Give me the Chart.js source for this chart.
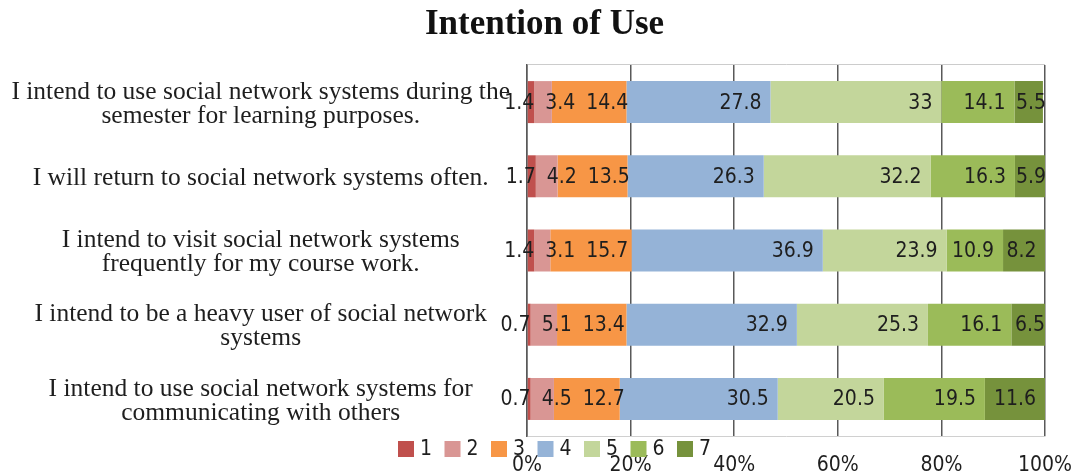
<!DOCTYPE html>
<html>
<head>
<meta charset="utf-8">
<script src="https://cdn.jsdelivr.net/npm/chart.js@4.4.1/dist/chart.umd.min.js"></script>
<style>
  html, body { margin: 0; padding: 0; background: #ffffff; }
  #wrap { width: 1076px; height: 473px; }
</style>
</head>
<body>
<div id="wrap"><canvas id="intentChart"></canvas></div>
<script>
// survey statements (one bar each)
const statements = [
  ["I intend to use social network systems during the", "semester for learning purposes."],
  "I will return to social network systems often.",
  ["I intend to visit social network systems", "frequently for my course work."],
  ["I intend to be a heavy user of social network", "systems"],
  ["I intend to use social network systems for", "communicating with others"]
];

// percentage answering each point of the 7-point scale
const scale1 = [1.4, 1.7, 1.4, 0.7, 0.7];
const scale2 = [3.4, 4.2, 3.1, 5.1, 4.5];
const scale3 = [14.4, 13.5, 15.7, 13.4, 12.7];
const scale4 = [27.8, 26.3, 36.9, 32.9, 30.5];
const scale5 = [33, 32.2, 23.9, 25.3, 20.5];
const scale6 = [14.1, 16.3, 10.9, 16.1, 19.5];
const scale7 = [5.5, 5.9, 8.2, 6.5, 11.6];

const pointLabels = ["1", "2", "3", "4", "5", "6", "7"];
const percentTicks = [0, 20, 40, 60, 80, 100];

const colors = ["#c0504d", "#d99694", "#f79646", "#95b3d7", "#c3d69b", "#9bbb59", "#76923c"];
const series = [scale1, scale2, scale3, scale4, scale5, scale6, scale7];

const serif = "'Liberation Serif', 'Times New Roman', serif";
const sans = "'DejaVu Sans Condensed', 'DejaVu Sans', sans-serif";
const ink = "#1e1e1e";

// value written near the right end of every segment; labels that do not
// fit sit on the end itself and get nudged right so they never overlap
const segmentLabels = {
  id: "segmentLabels",
  afterDatasetsDraw(chart) {
    const ctx = chart.ctx;
    const n = chart.data.labels.length;
    ctx.save();
    ctx.font = "21px " + sans;
    ctx.fillStyle = ink;
    ctx.textAlign = "right";
    ctx.textBaseline = "middle";
    for (let j = 0; j < n; j++) {
      let prevRight = -Infinity;
      chart.data.datasets.forEach((ds, i) => {
        const bar = chart.getDatasetMeta(i).data[j];
        const text = String(ds.data[j]);
        const w = ctx.measureText(text).width;
        const segW = bar.x - bar.base;
        let right = segW >= w + 10 ? bar.x - 9 : bar.x;
        right = Math.max(right, prevRight + 11 + w);
        right = Math.min(right, chart.chartArea.right + 1);
        ctx.fillText(text, right, bar.y + 1);
        prevRight = right;
      });
    }
    ctx.restore();
  }
};

// legend row sitting just under the plot, above the percent ticks
const bottomLegend = {
  id: "bottomLegend",
  afterDraw(chart) {
    const ctx = chart.ctx;
    const top = chart.chartArea.bottom + 5;
    let x = 398;
    ctx.save();
    ctx.font = "21px " + sans;
    ctx.textBaseline = "middle";
    ctx.textAlign = "left";
    chart.data.datasets.forEach((ds) => {
      ctx.fillStyle = ds.backgroundColor;
      ctx.fillRect(x, top, 16, 16);
      ctx.fillStyle = ink;
      ctx.fillText(ds.label, x + 22, top + 9);
      x += 46.5;
    });
    ctx.restore();
  }
};

// title sits a little right of the canvas centre
const titleShift = {
  id: "titleShift",
  afterLayout(chart) {
    chart.titleBlock.left += 40;
  }
};

new Chart(document.getElementById("intentChart"), {
  type: "bar",
  data: {
    labels: statements,
    datasets: series.map((vals, i) => ({
      label: pointLabels[i],
      data: vals,
      backgroundColor: colors[i],
      borderWidth: 0,
      barPercentage: 0.566,
      categoryPercentage: 1
    }))
  },
  options: {
    indexAxis: "y",
    responsive: true,
    maintainAspectRatio: false,
    animation: false,
    layout: { padding: { top: 1, right: 31, bottom: 0, left: 4 } },
    plugins: {
      legend: { display: false },
      tooltip: { enabled: false },
      title: {
        display: true,
        text: "Intention of Use",
        color: "#111",
        font: { family: serif, size: 35, weight: "bold", lineHeight: 1.2 },
        padding: { top: 3, bottom: 19 }
      }
    },
    scales: {
      x: {
        stacked: true,
        min: 0,
        max: 100,
        afterBuildTicks(axis) {
          axis.ticks = percentTicks.map(v => ({ value: v }));
        },
        afterFit(axis) {
          axis.height = 37;
          axis.paddingLeft = 0;
          axis.paddingRight = 0;
        },
        ticks: {
          callback: v => v + "%",
          color: ink,
          font: { family: sans, size: 21, lineHeight: 1 },
          padding: 19,
          maxRotation: 0
        },
        grid: { color: "#595959", lineWidth: 1.5, drawTicks: false },
        border: { color: "#d0d0d0", width: 1 }
      },
      y: {
        stacked: true,
        afterFit(axis) {
          axis.width = 523;
          axis.paddingTop = 0;
          axis.paddingBottom = 0;
        },
        ticks: {
          color: ink,
          crossAlign: "center",
          padding: 17,
          labelOffset: 2,
          font: { family: serif, size: 25.5, lineHeight: "24px" }
        },
        grid: {
          drawTicks: false,
          color: c => (c.index === 0 ? "#cccccc" : "rgba(0,0,0,0)")
        },
        border: { color: "#595959", width: 1.5 }
      }
    }
  },
  plugins: [segmentLabels, bottomLegend, titleShift]
});
</script>
</body>
</html>
